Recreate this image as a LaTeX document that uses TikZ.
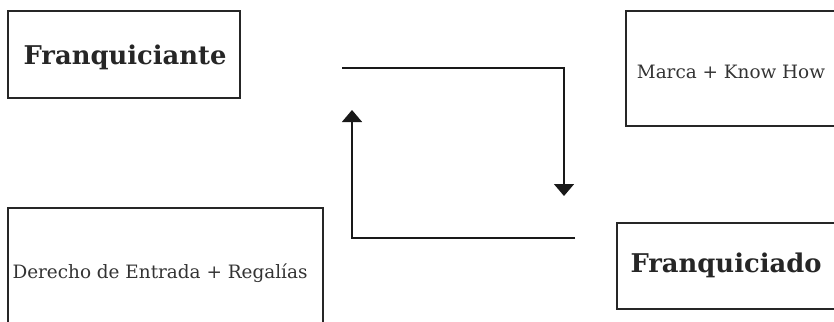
\documentclass[tikz,border=0pt]{standalone}
\usepackage{fontspec}
\setmainfont{DejaVu Serif}
\usetikzlibrary{arrows.meta}
\begin{document}
\begin{tikzpicture}[x=1pt,y=-1pt,
  party/.style={draw=black!85,line width=1.4pt},
  flow/.style={draw=black!90,line width=1.5pt,-{Triangle[width=20pt,length=12pt]}},
  bigname/.style={font=\fontsize{25.8}{30}\selectfont\bfseries,text=black!85},
  smalltext/.style={font=\fontsize{18.4}{22}\selectfont,text=black!80}]
\useasboundingbox (0,0) rectangle (834,321);
\clip (0,0) rectangle (834,321);
% boxes
\draw[party] (8,11) rectangle (240,98);
\draw[party] (626,11) rectangle (860,126);
\draw[party] (8,208) rectangle (323,340);
\draw[party] (617,223) rectangle (860,309);
% labels
\node[bigname] (ante) at (125,57) {Franquiciante};
\node[smalltext] (marca) at (731,72) {Marca + Know How};
\node[smalltext] (derecho) at (160,273) {Derecho de Entrada + Regalías};
\node[bigname] (ado) at (726,265) {Franquiciado};
% connector end points
\coordinate (a1) at (342,68);
\coordinate (a2) at (564,68);
\coordinate (a3) at (564,196);
\coordinate (b1) at (575,238);
\coordinate (b2) at (352,238);
\coordinate (b3) at (352,110);
\draw[flow] (a1) -- (a2) -- (a3);
\draw[flow] (b1) -- (b2) -- (b3);
\end{tikzpicture}
\end{document}
